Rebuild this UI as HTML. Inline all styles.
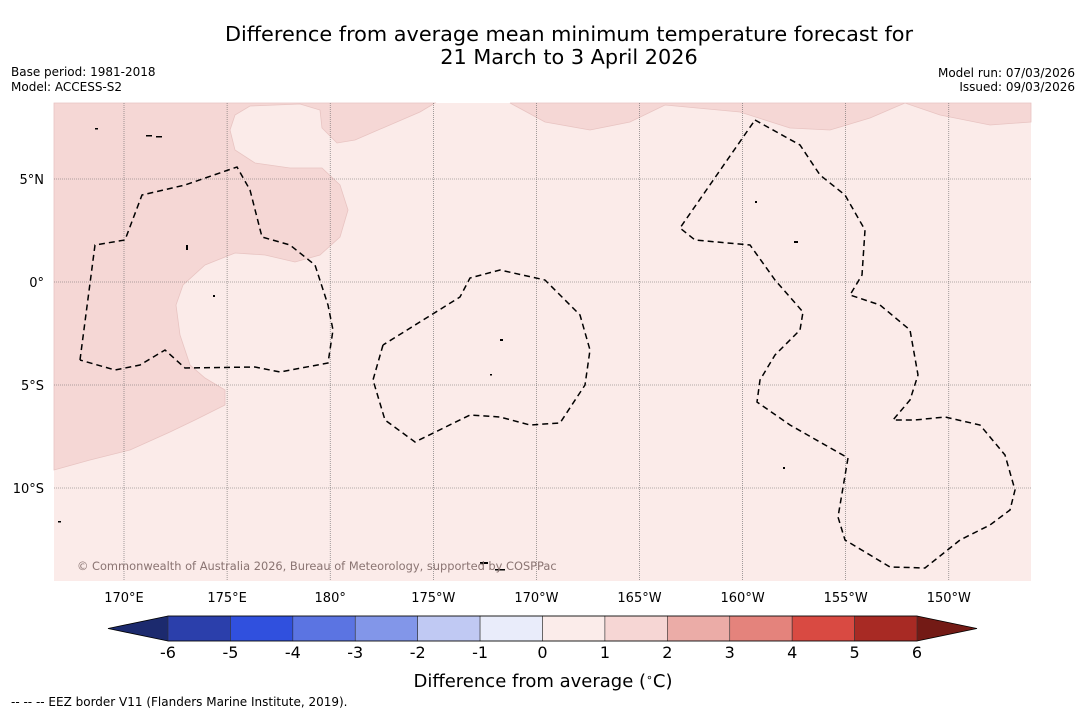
<!DOCTYPE html>
<html><head><meta charset="utf-8"><style>
body{margin:0;background:#fff;font-family:"DejaVu Sans","Liberation Sans",sans-serif;}
svg text{font-family:"DejaVu Sans","Liberation Sans",sans-serif;}
</style></head><body>
<svg id="chart" width="1085" height="713" viewBox="0 0 1085 713">
<rect width="1085" height="713" fill="#fff"/>
<text x="569" y="41" font-size="20.8" text-anchor="middle">Difference from average mean minimum temperature forecast for</text>
<text x="569" y="64" font-size="20.8" text-anchor="middle">21 March to 3 April 2026</text>
<text x="11" y="76" font-size="12">Base period: 1981-2018</text>
<text x="11" y="91" font-size="12">Model: ACCESS-S2</text>
<text x="1075" y="77" font-size="12" text-anchor="end">Model run: 07/03/2026</text>
<text x="1075" y="91" font-size="12" text-anchor="end">Issued: 09/03/2026</text>
<g>
<rect x="54" y="103" width="977" height="478" fill="#fbebe9"/>
<polygon fill="#f5d7d5" stroke="#e8c4c2" stroke-width="0.8" points="54,103 435,103 420,112 355,140 337,143 322,128 320,110 300,104 250,106 235,115 230,130 235,150 255,163 290,168 322,168 340,185 348,210 340,237 320,255 295,262 265,255 235,253 205,265 183,285 176,305 180,335 190,365 205,378 225,390 225,405 195,420 170,432 130,450 90,460 54,470"/>
<polygon fill="#f5d7d5" stroke="#e8c4c2" stroke-width="0.8" points="510,103 545,122 590,130 630,122 665,105 740,112 790,128 830,130 870,118 905,103 940,115 990,125 1031,122 1031,103"/>
<g id="grid" stroke="#666" stroke-width="0.6" stroke-dasharray="1,1" fill="none"></g>
<g fill="none" stroke="#000" stroke-width="1.5" stroke-dasharray="6,4">
<polyline points="80,360 95,245 125,240 142,195 185,185 237,167 250,190 262,237 290,245 315,265 328,305 333,330 328,363 280,372 255,367 185,368 165,350 140,365 115,370 80,360"/>
<polyline points="383,345 373,380 385,420 415,442 470,415 500,417 530,425 560,423 585,385 590,350 580,315 545,280 500,270 470,278 460,297 383,345"/>
<polyline points="755,120 800,145 820,175 845,195 865,230 862,275 850,295 880,305 910,330 918,375 910,400 893,420 915,420 945,417 980,425 1005,455 1015,490 1010,510 990,525 960,540 925,568 890,567 845,540 838,517 848,458 790,425 757,402 760,380 775,355 800,330 803,312 775,280 750,245 695,240 680,228 755,120"/>
</g>
<g fill="#000">
<rect x="146" y="135" width="6" height="1.5"/><rect x="156" y="136" width="6" height="1.5"/><rect x="95" y="128" width="3" height="1.5"/><rect x="500" y="339" width="3" height="2"/>
<rect x="480" y="562" width="8" height="2"/><rect x="495" y="569" width="10" height="1.5"/><rect x="783" y="467" width="2" height="2"/>
<rect x="755" y="201" width="2" height="2"/><rect x="794" y="241" width="4" height="2"/><rect x="58" y="521" width="3" height="1.5"/>
<rect x="186" y="245" width="2" height="5"/><rect x="213" y="295" width="2" height="2"/><rect x="490" y="374" width="2" height="1.5"/>
</g>
<text x="77" y="570" font-size="11.4" fill="#8a7472">© Commonwealth of Australia 2026, Bureau of Meteorology, supported by COSPPac</text>
<g id="axislabels" font-size="13"></g>
</g>
<g id="colorbar"></g>
<text x="543" y="687" font-size="18" text-anchor="middle">Difference from average (<tspan font-size="11" dy="-6">∘</tspan><tspan dy="6">C)</tspan></text>
<text x="11" y="706" font-size="12">--  --  -- EEZ border V11 (Flanders Marine Institute, 2019).</text>
</svg>
<script>
const lonLabels=["170°E","175°E","180°","175°W","170°W","165°W","160°W","155°W","150°W"];
const lonValues=[170,175,180,185,190,195,200,205,210];
const latLabels=["5°N","0°","5°S","10°S"];
const latValues=[5,0,-5,-10];
const levels=[-6,-5,-4,-3,-2,-1,0,1,2,3,4,5,6];
const binColors=["#2b3fab","#3050de","#5b74e2","#8296e9","#c0c9f3","#e9ecfa","#fbecea","#f6d6d4","#ebaca7","#e4837c","#d94a42","#a82a24"];
const underColor="#1c2a6e", overColor="#731a15";
const NS="http://www.w3.org/2000/svg";
const xLon=l=>124+(l-170)*103.1/5;
const yLat=l=>282-l*103/5;
const grid=document.getElementById('grid'), al=document.getElementById('axislabels');
function mk(tag,attrs,parent){const e=document.createElementNS(NS,tag);for(const k in attrs)e.setAttribute(k,attrs[k]);parent.appendChild(e);return e;}
lonValues.forEach((v,i)=>{
  const ln=mk('line',{x1:xLon(v),x2:xLon(v),y1:103,y2:581},grid);
  
  
  const t=mk('text',{x:xLon(v),y:602,'text-anchor':'middle'},al);t.textContent=lonLabels[i];
  
  
});
latValues.forEach((v,i)=>{
  const ln=mk('line',{x1:54,x2:1031,y1:yLat(v),y2:yLat(v)},grid);
  
  
  const t=mk('text',{x:44,y:yLat(v)+5,'text-anchor':'end'},al);t.textContent=latLabels[i];
  
  
});
const cb=document.getElementById('colorbar');
const x0=168,x1=917,cy0=616,cy1=641;
const xc=v=>x0+(v-levels[0])*(x1-x0)/(levels[levels.length-1]-levels[0]);
const lt=mk('polygon',{points:`108,628.5 ${x0},${cy0} ${x0},${cy1}`,fill:underColor},cb);


const rt=mk('polygon',{points:`977,628.5 ${x1},${cy0} ${x1},${cy1}`,fill:overColor},cb);


binColors.forEach((c,i)=>{
  const r=mk('rect',{x:xc(levels[i]),y:cy0,width:xc(levels[i+1])-xc(levels[i]),height:cy1-cy0,fill:c,stroke:'#333','stroke-width':0.6},cb);
  
  
});
mk('polygon',{points:`108,628.5 ${x0},${cy0} ${x1},${cy0} 977,628.5 ${x1},${cy1} ${x0},${cy1}`,fill:'none',stroke:'#000','stroke-width':0.8},cb);
levels.forEach(v=>{
  const t=mk('text',{x:xc(v),y:658,'text-anchor':'middle','font-size':16},cb);t.textContent=v;
  
  
});
</script>
</body></html>
